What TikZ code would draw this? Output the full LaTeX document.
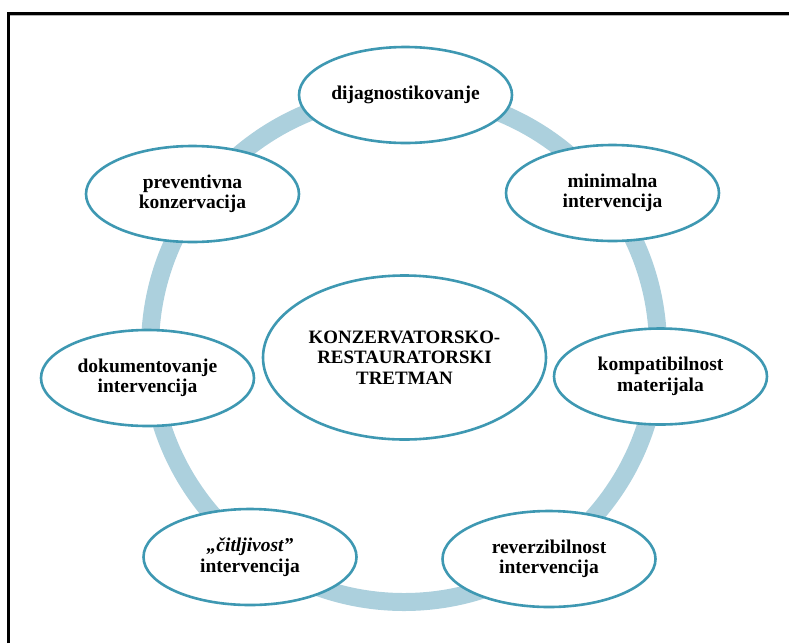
\documentclass[tikz,border=0pt]{standalone}
\usepackage{fontspec}
\setmainfont{Liberation Serif}
\usetikzlibrary{shapes.geometric}
\definecolor{ringblue}{RGB}{172,208,221}
\definecolor{edgeblue}{RGB}{62,152,178}
\begin{document}
\begin{tikzpicture}[x=1pt,y=-1pt,
  bub/.style={ellipse, draw=edgeblue, line width=2.6pt, fill=white, inner sep=0pt,
    minimum width=213pt, minimum height=96pt, align=center,
    font=\fontsize{19.5}{20.5}\selectfont\bfseries},
  hub/.style={bub, minimum width=283pt, minimum height=164pt,
    font=\fontsize{18.9}{20.5}\selectfont\bfseries}]
\useasboundingbox (0,0) rectangle (789,643);
% frame
\draw[gray!60, line width=0.9pt] (10,15.6) -- (789,15.6);
\draw[line width=2.6pt] (8.6,643) -- (8.6,13.4) -- (789,13.4);
% ring
\draw[ringblue, line width=18pt] (404,348) circle (254pt);
% nodes
\node[hub] (c) at (404.5,357.5) {KONZERVATORSKO-\\RESTAURATORSKI\\TRETMAN};
\node[bub] (n1) at (405.5,95) {dijagnostikovanje};
\node[bub] (n2) at (612.5,193) {minimalna\\intervencija};
\node[bub] (n3) at (660.5,376.5) {kompatibilnost\\materijala};
\node[bub] (n4) at (549,559) {reverzibilnost\\intervencija};
\node[bub] (n5) at (250,557) {\textit{„čitljivost”}\\intervencija};
\node[bub] (n6) at (147.5,378) {dokumentovanje\\intervencija};
\node[bub] (n7) at (192.5,194) {preventivna\\konzervacija};
\end{tikzpicture}
\end{document}
